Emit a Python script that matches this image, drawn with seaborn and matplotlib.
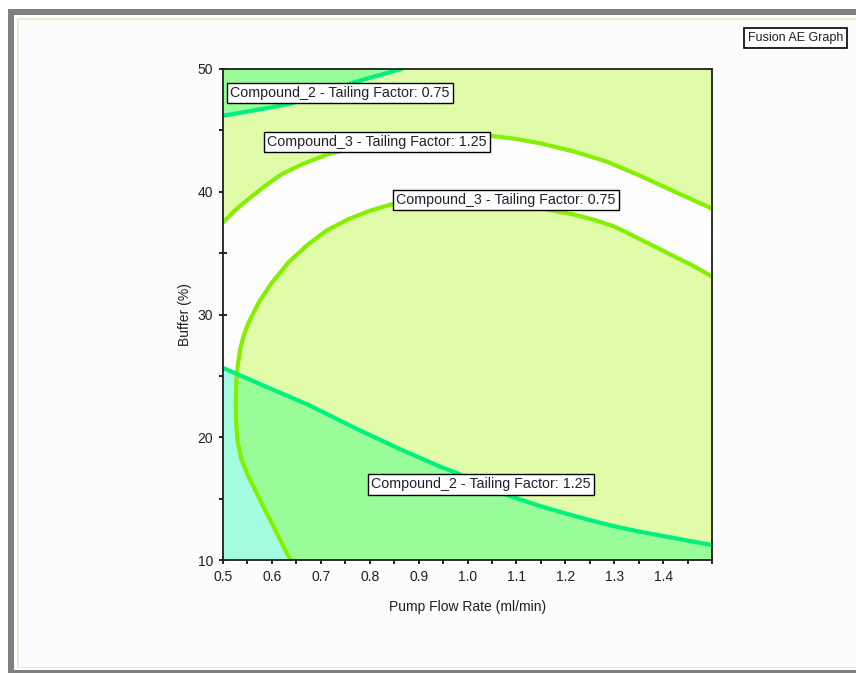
import matplotlib
matplotlib.use("Agg")
import matplotlib.pyplot as plt
from matplotlib.patches import Rectangle, Polygon
import pandas as pd
import seaborn as sns

# Design space
flow_range = [0.5, 1.5]
buffer_range = [10, 50]
flow_major = [0.5, 0.6, 0.7, 0.8, 0.9, 1.0, 1.1, 1.2, 1.3, 1.4, 1.5]
flow_labels = ["0.5", "0.6", "0.7", "0.8", "0.9", "1.0", "1.1", "1.2", "1.3", "1.4", ""]
flow_minor = [0.55, 0.65, 0.75, 0.85, 0.95, 1.05, 1.15, 1.25, 1.35, 1.45]
buffer_major = [10, 20, 30, 40, 50]
buffer_minor = [15, 25, 35, 45]

# Tailing-factor limits
tf_low = 0.75
tf_high = 1.25

# Compound_2, TF = 0.75 contour
c2_low_flow = [0.500, 0.560, 0.634, 0.700, 0.770, 0.820, 0.865]
c2_low_buffer = [46.19, 46.60, 47.14, 47.90, 48.94, 49.50, 50.00]

# Compound_2, TF = 1.25 contour
c2_high_flow = [0.500, 0.586, 0.674, 0.777, 0.865, 0.944, 0.971, 1.080,
                1.148, 1.200, 1.250, 1.300, 1.353, 1.421, 1.500]
c2_high_buffer = [25.65, 24.15, 22.65, 20.61, 18.98, 17.60, 17.20, 15.30,
                  14.40, 13.80, 13.25, 12.75, 12.30, 11.80, 11.22]

# Compound_3, TF = 1.25 contour
c3_high_flow = [0.500, 0.525, 0.552, 0.585, 0.620, 0.665, 0.715, 0.800,
                0.900, 1.000, 1.046, 1.100, 1.148, 1.216, 1.285, 1.353,
                1.421, 1.460, 1.500]
c3_high_buffer = [37.50, 38.50, 39.40, 40.45, 41.43, 42.30, 43.06, 43.90,
                  44.40, 44.65, 44.56, 44.30, 43.95, 43.30, 42.45, 41.30,
                  40.05, 39.35, 38.63]

# Compound_3, TF = 0.75 contour (right edge round to the bottom edge)
c3_low_flow = [1.500, 1.460, 1.421, 1.390, 1.353, 1.325, 1.298, 1.260,
               1.216, 1.100, 1.000, 0.920, 0.845, 0.800, 0.756, 0.712,
               0.674, 0.635, 0.600, 0.574, 0.552, 0.542, 0.535, 0.530,
               0.527, 0.526, 0.527, 0.530, 0.538, 0.548, 0.559, 0.572,
               0.586, 0.610, 0.634, 0.639]
c3_low_buffer = [33.10, 34.00, 34.76, 35.40, 36.12, 36.70, 37.20, 37.70,
                 38.16, 39.00, 39.30, 39.25, 38.98, 38.45, 37.76, 36.85,
                 35.71, 34.30, 32.59, 31.05, 29.32, 28.25, 27.14, 25.80,
                 24.40, 22.70, 21.20, 19.60, 18.16, 17.15, 16.26, 15.20,
                 14.08, 12.20, 10.27, 10.00]

# Label anchor points (flow, buffer)
label_flow = [0.739, 1.027, 0.815, 1.079]
label_buffer = [48.04, 16.16, 44.04, 39.31]
label_compound = ["Compound_2", "Compound_2", "Compound_3", "Compound_3"]
label_tf = [tf_low, tf_high, tf_high, tf_low]

# Colours
col_c3_fail = "#e0fca8"
col_c2_fail = "#a4fce0"
col_both_fail = "#98fc98"
col_c3_line = "#84f000"
col_c2_line = "#00f080"

sns.set_style("white")
plt.rcParams["font.family"] = ["Liberation Sans", "DejaVu Sans"]

W, H = 856, 673
fig = plt.figure(figsize=(W / 100, H / 100), dpi=100)
fig.patch.set_facecolor("white")


def px_rect(x0, y0, x1, y1, color):
    fig.add_artist(Rectangle((x0 / W, 1 - y1 / H), (x1 - x0) / W, (y1 - y0) / H,
                             transform=fig.transFigure, facecolor=color,
                             edgecolor="none", zorder=-10))


# Window frame
px_rect(8, 9, W, H, "#808080")
px_rect(14, 15, W, 670, "#ffffff")
px_rect(17, 18, W, 668, "#ece9d8")
px_rect(19, 20, W, 667, "#fcfcfc")

ax = fig.add_axes([223 / W, 1 - 560 / H, (712 - 223) / W, (560 - 69) / H])
ax.set_facecolor("#fdfdfd")
ax.set_xlim(flow_range)
ax.set_ylim(buffer_range)

x0, x1 = flow_range
y0, y1 = buffer_range

# Compound_3 failure: above the 1.25 contour
upper = list(zip(c3_high_flow, c3_high_buffer)) + [(x1, y1), (x0, y1)]
ax.add_patch(Polygon(upper, closed=True, facecolor=col_c3_fail,
                     edgecolor="none", zorder=1))

# Compound_3 failure: inside the 0.75 contour
inner = list(zip(c3_low_flow, c3_low_buffer)) + [(x1, y0)]
inner_patch = Polygon(inner, closed=True, facecolor=col_c3_fail,
                      edgecolor="none", zorder=1)
ax.add_patch(inner_patch)

# Compound_2 failure: below the 1.25 contour
lower = list(zip(c2_high_flow, c2_high_buffer)) + [(x1, y0), (x0, y0)]
ax.add_patch(Polygon(lower, closed=True, facecolor=col_c2_fail,
                     edgecolor="none", zorder=2))
both = Polygon(lower, closed=True, facecolor=col_both_fail,
               edgecolor="none", zorder=3)
ax.add_patch(both)
both.set_clip_path(inner_patch)

# Compound_2 failure: above the 0.75 contour (overlaps Compound_3 failure)
top = list(zip(c2_low_flow, c2_low_buffer)) + [(x0, y1)]
ax.add_patch(Polygon(top, closed=True, facecolor=col_both_fail,
                     edgecolor="none", zorder=2))

# Contour lines
curves = [
    (c3_high_flow, c3_high_buffer, col_c3_line),
    (c3_low_flow, c3_low_buffer, col_c3_line),
    (c2_high_flow, c2_high_buffer, col_c2_line),
    (c2_low_flow, c2_low_buffer, col_c2_line),
]
for fx, by, col in curves:
    df = pd.DataFrame({"flow": fx, "buffer": by})
    sns.lineplot(data=df, x="flow", y="buffer", sort=False,
                 estimator=None, color=col, lw=3.0, ax=ax, zorder=4)
for ln in ax.get_lines():
    ln.set_solid_joinstyle("round")

# Contour labels
for lx, ly, comp, tf in zip(label_flow, label_buffer, label_compound, label_tf):
    ax.text(lx, ly, f"{comp} - Tailing Factor: {tf:.2f}", ha="center",
            va="center", fontsize=10.3, color="#202030", zorder=6,
            bbox=dict(boxstyle="square,pad=0.22", facecolor="white",
                      edgecolor="black", lw=1.0))

# Axes styling
ax.set_xticks(flow_major)
ax.set_xticklabels(flow_labels)
ax.set_xticks(flow_minor, minor=True)
ax.set_yticks(buffer_major)
ax.set_yticks(buffer_minor, minor=True)
ax.tick_params(axis="both", which="both", direction="inout", length=6,
               width=1.2, color="black", labelsize=10, labelcolor="#202020",
               bottom=True, left=True, top=False, right=False, pad=4)
for s in ax.spines.values():
    s.set_color("#202020")
    s.set_linewidth(1.3)
    s.set_zorder(7)
ax.set_xlabel("Pump Flow Rate (ml/min)", fontsize=10, color="#202020",
              labelpad=12)
ax.set_ylabel("Buffer (%)", fontsize=10, color="#202020", labelpad=4)
ax.grid(False)

# Graph caption box
fig.text(795.5 / W, 1 - 38 / H, "Fusion AE Graph", ha="center", va="center",
         fontsize=9, color="#202020",
         bbox=dict(boxstyle="square,pad=0.3", facecolor="white",
                   edgecolor="black", lw=1.2))

fig.savefig("out.png", dpi=100)
